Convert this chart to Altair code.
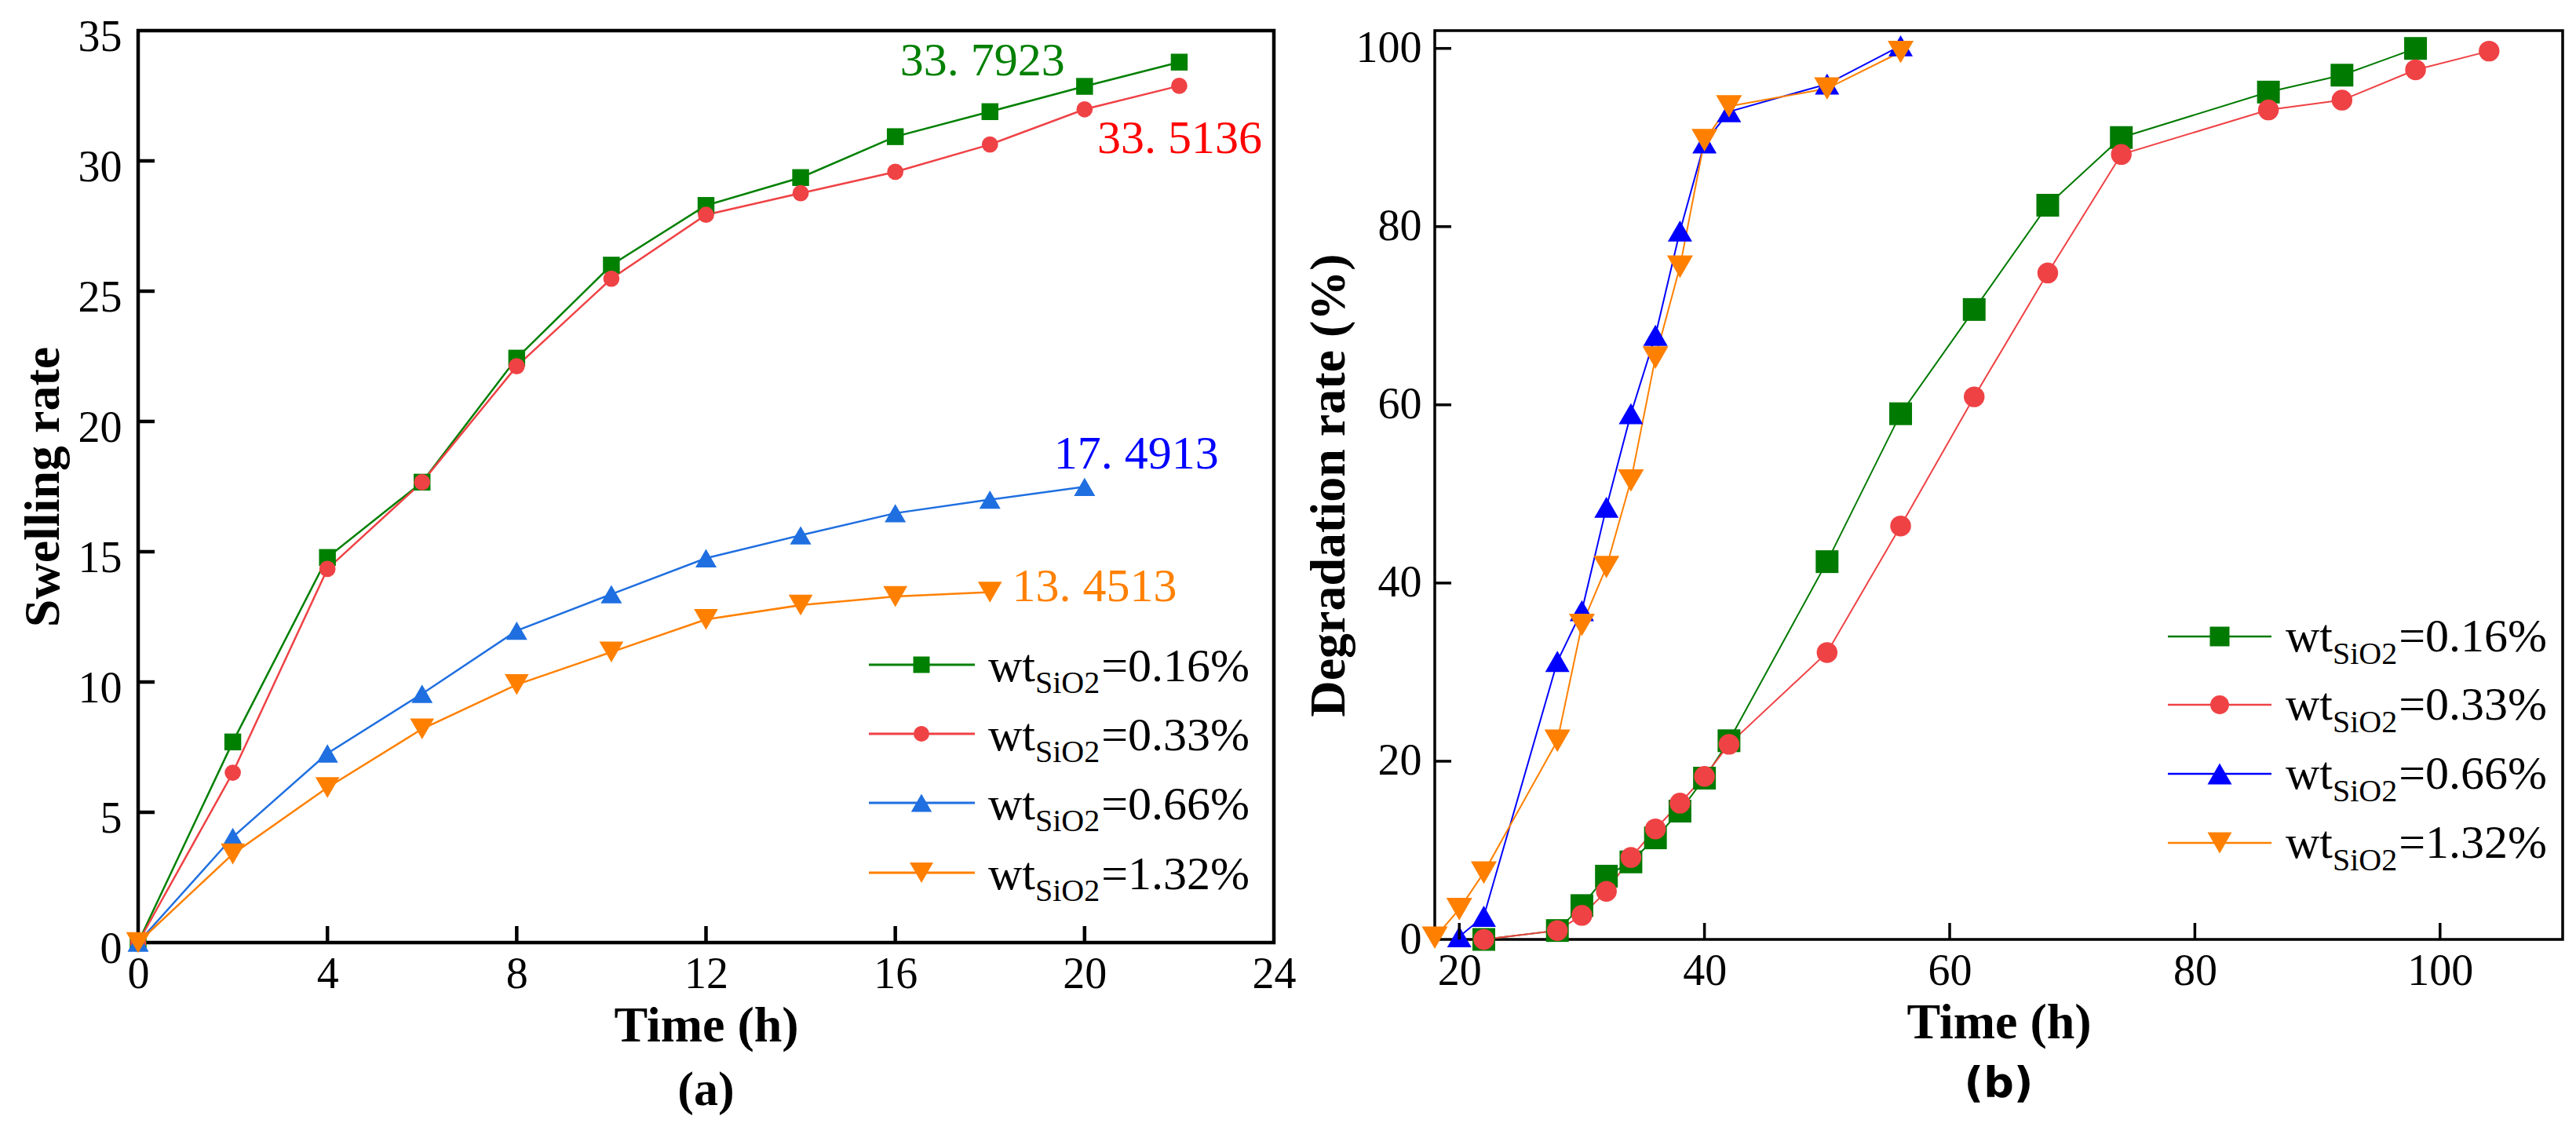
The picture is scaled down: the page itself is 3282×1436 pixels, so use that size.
import altair as alt
import pandas as pd

# ---------------- data (a) swelling rate ----------------
series = ["0.16%", "0.33%", "0.66%", "1.32%"]
time_a = {
    "0.16%": [0, 2, 4, 6, 8, 10, 12, 14, 16, 18, 20, 22],
    "0.33%": [0, 2, 4, 6, 8, 10, 12, 14, 16, 18, 20, 22],
    "0.66%": [0, 2, 4, 6, 8, 10, 12, 14, 16, 18, 20],
    "1.32%": [0, 2, 4, 6, 8, 10, 12, 14, 16, 18],
}
swell = {
    "0.16%": [0, 7.7, 14.78, 17.67, 22.43, 26.0, 28.29, 29.36, 30.93, 31.89, 32.86, 33.79],
    "0.33%": [0, 6.52, 14.34, 17.67, 22.12, 25.48, 27.93, 28.76, 29.58, 30.63, 31.98, 32.88],
    "0.66%": [0, 4.05, 7.26, 9.55, 11.97, 13.37, 14.75, 15.63, 16.48, 17.0, 17.49],
    "1.32%": [0, 3.4, 5.95, 8.2, 9.9, 11.15, 12.4, 12.95, 13.28, 13.45],
}
notes_text = ["33. 7923", "33. 5136", "17. 4913", "13. 4513"]
notes_x = [16.1, 20.27, 19.35, 18.47]
notes_y = [33.27, 30.3, 18.2, 13.1]
notes_color = ["#008000", "#ff0000", "#0000ff", "#ff8000"]

# ---------------- data (b) degradation rate ----------------
time_b = {
    "0.16%": [22, 28, 30, 32, 34, 36, 38, 40, 42, 50, 56, 62, 68, 74, 86, 92, 98],
    "0.33%": [22, 28, 30, 32, 34, 36, 38, 40, 42, 50, 56, 62, 68, 74, 86, 92, 98, 104],
    "0.66%": [20, 22, 28, 30, 32, 34, 36, 38, 40, 42, 50, 56],
    "1.32%": [18, 20, 22, 28, 30, 32, 34, 36, 38, 40, 42, 50, 56],
}
degr = {
    "0.16%": [0, 1.0, 3.8, 7.1, 8.7, 11.4, 14.4, 18.1, 22.3, 42.4, 59.0, 70.7, 82.4, 90.0, 95.1, 97.0, 100.0],
    "0.33%": [0, 1.0, 2.7, 5.4, 9.2, 12.4, 15.3, 18.3, 21.9, 32.2, 46.4, 60.9, 74.8, 88.1, 93.1, 94.2, 97.6, 99.7],
    "0.66%": [0.3, 2.6, 31.2, 36.9, 48.5, 59.0, 67.8, 79.5, 89.4, 92.9, 96.0, 100.3],
    "1.32%": [0.2, 3.4, 7.5, 22.3, 35.3, 41.8, 51.5, 65.3, 75.5, 89.7, 93.5, 95.5, 99.6],
}

colors_a = ["#008000", "#ef4245", "#1f6fe0", "#ff8000"]
colors_b = ["#007a00", "#ef4245", "#0000ff", "#ff8000"]
shapes = ["square", "circle", "triangle-up", "triangle-down"]
sizes_a = [460, 430, 730, 940]
sizes_b = [840, 700, 960, 1090]

FONT = "Liberation Serif, Times New Roman, serif"


def one():
    return pd.DataFrame({"k": [0]})


def legend_layers(colors, sizes, x_line0, x_line1, x_mark, x_wt, rows_y, dy_main, dy_sub, line_w):
    layers = []
    for i, s in enumerate(series):
        yy = rows_y[i]
        layers.append(
            alt.Chart(one()).mark_rule(color=colors[i], strokeWidth=line_w).encode(
                x=alt.value(x_line0), x2=alt.value(x_line1), y=alt.value(yy)
            )
        )
        layers.append(
            alt.Chart(one()).mark_point(
                shape=shapes[i], filled=True, opacity=1, color=colors[i], size=sizes[i]
            ).encode(x=alt.value(x_mark), y=alt.value(yy))
        )
        x_sub = x_wt + 60
        x_eq = x_sub + 2.056 * 40 + 2
        for txt, xx, dy, fs in [
            ("wt", x_wt, dy_main, 60),
            ("SiO2", x_sub, dy_sub, 40),
            ("=" + s, x_eq, dy_main, 60),
        ]:
            layers.append(
                alt.Chart(one()).mark_text(
                    text=txt, align="left", baseline="alphabetic", font=FONT,
                    fontSize=fs, color="black"
                ).encode(x=alt.value(xx), y=alt.value(yy + dy))
            )
    return layers


def panel(tdict, vdict, xdom, ydom, xvals, yvals, xticks_in, yticks_in, w, h, colors, sizes,
          ytitle, subtitle, sub_font, sub_size, line_w, frame_w, ylab_off, ylab_pad, ytitle_pad,
          extra_layers):
    xs = alt.Scale(domain=xdom, nice=False, zero=False)
    ys = alt.Scale(domain=ydom, nice=False, zero=False)
    xax = alt.Axis(values=xvals, format="d", ticks=False, tickSize=0, domain=False, grid=False,
                   labelFont=FONT, labelFontSize=56, labelColor="black", labelPadding=13,
                   labelFlush=False, title="Time (h)", titleFont=FONT, titleFontSize=64,
                   titleFontWeight="bold", titleColor="black", titlePadding=6)
    yax = alt.Axis(values=yvals, format="d", ticks=False, tickSize=0, domain=False, grid=False,
                   labelFont=FONT, labelFontSize=56, labelColor="black", labelPadding=ylab_pad,
                   labelOffset=ylab_off, labelFlush=False, title=ytitle, titleFont=FONT,
                   titleFontSize=64, titleFontWeight="bold", titleColor="black",
                   titlePadding=ytitle_pad)
    layers = []
    first = True
    for i, s in enumerate(series):
        df = pd.DataFrame({"time": tdict[s], "value": vdict[s]})
        if first:
            enc_x = alt.X("time:Q", scale=xs, axis=xax)
            enc_y = alt.Y("value:Q", scale=ys, axis=yax)
            first = False
        else:
            enc_x = alt.X("time:Q")
            enc_y = alt.Y("value:Q")
        layers.append(
            alt.Chart(df).mark_line(color=colors[i], strokeWidth=line_w).encode(
                x=enc_x, y=enc_y, order="time:Q"
            )
        )
    for i, s in enumerate(series):
        df = pd.DataFrame({"time": tdict[s], "value": vdict[s]})
        layers.append(
            alt.Chart(df).mark_point(
                shape=shapes[i], filled=True, opacity=1, color=colors[i], size=sizes[i]
            ).encode(x="time:Q", y="value:Q")
        )
    tx = alt.Chart(pd.DataFrame({"t": xticks_in})).mark_rule(color="black", strokeWidth=frame_w).encode(
        x="t:Q", y=alt.value(h), y2=alt.value(h - 21)
    )
    ty = alt.Chart(pd.DataFrame({"t": yticks_in})).mark_rule(color="black", strokeWidth=frame_w).encode(
        y="t:Q", x=alt.value(0), x2=alt.value(21)
    )
    return alt.layer(*layers, tx, ty, *extra_layers).properties(
        width=w, height=h,
        view=alt.ViewBackground(stroke="black", strokeWidth=frame_w, fill="white"),
        title=alt.TitleParams(subtitle, orient="bottom", font=sub_font, fontSize=sub_size,
                              fontWeight="bold", color="black", offset=20),
    )


# ---- panel a ----
notes_df = pd.DataFrame({"x": notes_x, "y": notes_y, "text": notes_text, "c": notes_color})
notes = alt.Chart(notes_df).mark_text(align="left", baseline="alphabetic", font=FONT, fontSize=60).encode(
    x="x:Q", y="y:Q", text="text:N", color=alt.Color("c:N", scale=None)
)
leg_a = legend_layers(colors_a, [440, 400, 700, 900], 931, 1066, 998, 1083,
                      [808, 896, 984, 1073], 21, 36, 3)
chart_a = panel(time_a, swell, [0, 24], [0, 35], [0, 4, 8, 12, 16, 20, 24],
                [0, 5, 10, 15, 20, 25, 30, 35],
                [4, 8, 12, 16, 20], [5, 10, 15, 20, 25, 30], 1447, 1162, colors_a, sizes_a,
                "Swelling rate", "(a)", FONT, 62, 2.5, 4.5, 8, 21, 12, [notes] + leg_a)

# ---- panel b ----
leg_b = legend_layers(colors_b, [625, 570, 960, 960], 934, 1066, 1000, 1084,
                      [772, 859, 947, 1035], 19, 35, 2.5)
chart_b = panel(time_b, degr, [18, 110], [0, 102], [20, 40, 60, 80, 100],
                [0, 20, 40, 60, 80, 100],
                [20, 40, 60, 80, 100], [20, 40, 60, 80, 100], 1437, 1158, colors_b, sizes_b,
                "Degradation rate (%)", "(b)", "DejaVu Sans", 54, 2, 3.5, 0, 17, 2, leg_b)

chart = alt.hconcat(chart_a, chart_b, spacing=5).properties(
    padding={"left": 12, "top": 8, "right": 5, "bottom": 5},
    background="white",
)

chart.save("out.html", embed_options={"renderer": "svg", "actions": False})
